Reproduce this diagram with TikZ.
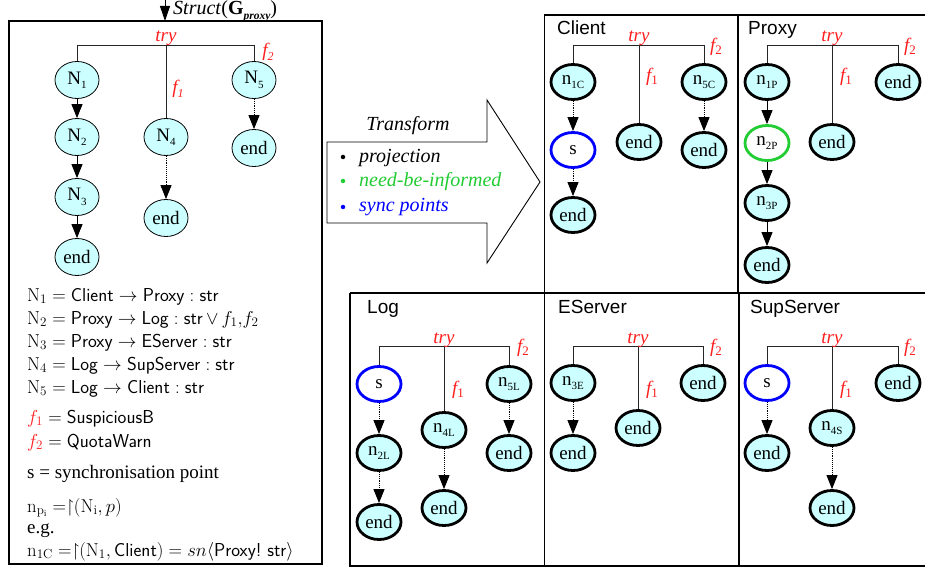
\documentclass[tikz,border=0pt]{standalone}
\usepackage{fix-cm}
\usepackage{fontspec}
\usepackage{amssymb}
\newfontfamily\tms{Liberation Serif}
\newfontfamily\arl{Liberation Sans}
\usetikzlibrary{shapes.geometric,arrows.meta}
\definecolor{nfill}{RGB}{204,255,255}
\definecolor{ngreen}{RGB}{34,204,51}
\definecolor{lred}{RGB}{255,30,30}
\newcommand\sbx[1]{\raisebox{-0.5ex}{\fontsize{11}{11}\selectfont #1}}
\newcommand\eqres{\mathrel{=\upharpoonright\mskip-\thickmuskip}}
\tikzset{
 tn/.style={ellipse, draw=black, line width=0.8pt, fill=nfill, minimum width=44pt, minimum height=37pt, inner sep=0pt, font=\tms\fontsize{19}{19}\selectfont},
 pn/.style={ellipse, draw=black, line width=2.8pt, fill=nfill, minimum width=44pt, minimum height=35pt, inner sep=0pt, font=\tms\fontsize{19}{19}\selectfont},
 syn/.style={pn, draw=blue, fill=white},
 gn/.style={pn, draw=ngreen, fill=white},
 br/.style={line width=0.9pt, draw=black!85},
 arr/.style={line width=0.9pt, -{Triangle[length=14pt,width=11pt]}},
 darr/.style={arr, densely dotted},
 lbl/.style={text=lred, font=\tms\itshape\fontsize{19}{19}\selectfont, inner sep=0pt},
 ptitle/.style={anchor=base west, font=\arl\fontsize{19}{19}\selectfont, inner sep=0pt},
 leg/.style={anchor=base west, inner sep=0pt, font=\fontsize{18.7}{18.7}\selectfont},
 trf/.style={anchor=base west, inner sep=0pt, font=\tms\itshape\fontsize{20}{20}\selectfont},
 frame/.style={line width=1.1pt, draw=black},
 bul/.style={circle, inner sep=0pt, minimum size=4.5pt},
}
\begin{document}
\begin{tikzpicture}[x=1pt,y=-1pt]
\useasboundingbox (0,0) rectangle (925,569);
\fill[white] (0,0) rectangle (925,569);

% ---------- frames ----------
\draw[frame] (9,21) rectangle (322,564);
\draw[frame] (544.5,293) -- (544.5,15) -- (926,15);
\draw[frame] (738,15) -- (738,293);
\draw[frame] (350,293) -- (926,293);
\draw[frame] (350,293) -- (350,566) -- (926,566);
\draw[frame] (544.5,293) -- (544.5,566);
\draw[frame] (739,293) -- (739,566);

% ---------- Struct arrow ----------
\coordinate (stop) at (165,-2);
\coordinate (sbot) at (165,21);
\draw[line width=0.9pt, -{Triangle[length=15pt,width=10pt]}] (stop) -- (sbot);
\node[anchor=base west, inner sep=0pt, font=\tms\fontsize{20}{20}\selectfont] (structlbl) at (173,15)
  {\textit{Struct}(\textbf{G}\raisebox{-0.5ex}{\fontsize{11.5}{11.5}\selectfont\bfseries\itshape proxy})};

% ---------- left tree ----------
\node[tn] (N1) at (77,80) {N\sbx{1}};
\node[tn] (N2) at (77,137) {N\sbx{2}};
\node[tn] (N3) at (77,197) {N\sbx{3}};
\node[tn] (E1) at (77,257) {end};
\node[tn] (N4) at (166,137) {N\sbx{4}};
\node[tn] (E4) at (166,218) {end};
\node[tn] (N5) at (254,80) {N\sbx{5}};
\node[tn] (E5) at (254,148) {end};
\coordinate (bar0) at (166,45);
\draw[br] (N1.north) -- (N1.north |- bar0) -- (N5.north |- bar0) -- (N5.north);
\draw[br] (bar0) -- (N4.north);
\node[lbl, anchor=base] (try0) at (166,42) {try};
\node[lbl] (f20) at (268,52) {f\raisebox{-0.5ex}{\fontsize{12}{12}\selectfont 2}};
\node[lbl] (f10) at (178,89) {f\raisebox{-0.5ex}{\fontsize{12}{12}\selectfont 1}};
\draw[arr] (N1) -- (N2);
\draw[arr] (N2) -- (N3);
\draw[arr] (N3) -- (E1);
\draw[darr] (N4) -- (E4);
\draw[darr] (N5) -- (E5);

% ---------- legend ----------
\node[leg] (l1) at (27,301) {$\mathrm{N}_1 = \textsf{Client} \rightarrow \textsf{Proxy} : \textsf{str}$};
\node[leg] (l2) at (27,324) {$\mathrm{N}_2 = \textsf{Proxy} \rightarrow \textsf{Log} : \textsf{str}\,{\vee}\, f_1{,}f_2$};
\node[leg] (l3) at (27,347) {$\mathrm{N}_3 = \textsf{Proxy} \rightarrow \textsf{EServer} : \textsf{str}$};
\node[leg] (l4) at (27,370) {$\mathrm{N}_4 = \textsf{Log} \rightarrow \textsf{SupServer} : \textsf{str}$};
\node[leg] (l5) at (27,393) {$\mathrm{N}_5 = \textsf{Log} \rightarrow \textsf{Client} : \textsf{str}$};
\node[leg] (l6) at (27,423) {$\color{lred}f_1\color{black} = \textsf{SuspiciousB}$};
\node[leg] (l7) at (27,447) {$\color{lred}f_2\color{black} = \textsf{QuotaWarn}$};
\node[leg, font=\tms\fontsize{19}{19}\selectfont] (l8) at (27,478) {s = synchronisation point};
\node[leg] (l9) at (27,512) {$\mathrm{n}_{\mathrm{p}_\mathrm{i}} \eqres(\mathrm{N}_\mathrm{i}, p)$};
\node[leg, font=\tms\fontsize{19}{19}\selectfont] (l10) at (27,533) {e.g.};
\node[leg] (l11) at (27,556) {$\mathrm{n}_{\mathrm{1C}} \eqres(\mathrm{N}_1, \textsf{Client}) = sn\langle\textsf{Proxy!\ str}\rangle$};

% ---------- Transform arrow ----------
\draw[line width=0.9pt, fill=white] (327,142) -- (487,142) -- (487,100) -- (540,182) -- (487,263) -- (487,223) -- (327,223) -- cycle;
\node[anchor=base, inner sep=0pt, font=\tms\itshape\fontsize{20}{20}\selectfont] (tf) at (408,131) {Transform};
\node[bul, fill=black] (b1) at (343,157) {};
\node[bul, fill=ngreen] (b2) at (343,181) {};
\node[bul, fill=blue] (b3) at (343,207) {};
\node[trf] (t1) at (359,163) {projection};
\node[trf, text=ngreen] (t2) at (359,187) {need-be-informed};
\node[trf, text=blue] (t3) at (359,212) {sync points};

% ---------- Client ----------
\node[ptitle] (tc) at (557,35) {Client};
\node[pn] (c1) at (573,82) {n\sbx{1C}};
\node[syn] (cs) at (573,150) {s};
\node[pn] (ce1) at (573,215) {end};
\node[pn] (ce2) at (639,142) {end};
\node[pn] (c5) at (704,82) {n\sbx{5C}};
\node[pn] (ce3) at (704,150) {end};
\coordinate (barc) at (639,45);
\draw[br] (c1.north) -- (c1.north |- barc) -- (c5.north |- barc) -- (c5.north);
\draw[br] (barc) -- (ce2.north);
\node[lbl, anchor=base] (tryc) at (639,42) {try};
\node[lbl] (f1c) at (652,77) {f\raisebox{-0.3ex}{\fontsize{13}{13}\selectfont\upshape 1}};
\node[lbl] (f2c) at (716,47) {f\raisebox{-0.3ex}{\fontsize{13}{13}\selectfont\upshape 2}};
\draw[darr] (c1) -- (cs);
\draw[darr] (cs) -- (ce1);
\draw[darr] (c5) -- (ce3);

% ---------- Proxy ----------
\node[ptitle] (tp) at (748,35) {Proxy};
\node[pn] (p1) at (767,82) {n\sbx{1P}};
\node[gn] (p2) at (767,143) {n\sbx{2P}};
\node[pn] (p3) at (767,203) {n\sbx{3P}};
\node[pn] (pe1) at (767,265) {end};
\node[pn] (pe2) at (832,142) {end};
\node[pn] (pe3) at (898,82) {end};
\coordinate (barp) at (832,45);
\draw[br] (p1.north) -- (p1.north |- barp) -- (pe3.north |- barp) -- (pe3.north);
\draw[br] (barp) -- (pe2.north);
\node[lbl, anchor=base] (tryp) at (832,42) {try};
\node[lbl] (f1p) at (846,77) {f\raisebox{-0.3ex}{\fontsize{13}{13}\selectfont\upshape 1}};
\node[lbl] (f2p) at (910,47) {f\raisebox{-0.3ex}{\fontsize{13}{13}\selectfont\upshape 2}};
\draw[arr] (p1) -- (p2);
\draw[arr] (p2) -- (p3);
\draw[arr] (p3) -- (pe1);

% ---------- Log ----------
\node[ptitle] (tl) at (367,313) {Log};
\node[syn] (ls) at (379,384) {s};
\node[pn] (l2n) at (379,453) {n\sbx{2L}};
\node[pn] (le1) at (379,522) {end};
\node[pn] (l4n) at (444,430) {n\sbx{4L}};
\node[pn] (le2) at (444,508) {end};
\node[pn] (l5n) at (509,384) {n\sbx{5L}};
\node[pn] (le3) at (509,453) {end};
\coordinate (barl) at (444,346);
\draw[br] (ls.north) -- (ls.north |- barl) -- (l5n.north |- barl) -- (l5n.north);
\draw[br] (barl) -- (l4n.north);
\node[lbl, anchor=base] (tryl) at (444,343) {try};
\node[lbl] (f1l) at (458,390) {f\raisebox{-0.3ex}{\fontsize{13}{13}\selectfont\upshape 1}};
\node[lbl] (f2l) at (523,348) {f\raisebox{-0.3ex}{\fontsize{13}{13}\selectfont\upshape 2}};
\draw[darr] (ls) -- (l2n);
\draw[darr] (l2n) -- (le1);
\draw[darr] (l4n) -- (le2);
\draw[darr] (l5n) -- (le3);

% ---------- EServer ----------
\node[ptitle] (te) at (558,313) {EServer};
\node[pn] (e3n) at (573,383) {n\sbx{3E}};
\node[pn] (ee1) at (573,453) {end};
\node[pn] (ee2) at (638,428) {end};
\node[pn] (ee3) at (703,383) {end};
\coordinate (bare) at (638,346);
\draw[br] (e3n.north) -- (e3n.north |- bare) -- (ee3.north |- bare) -- (ee3.north);
\draw[br] (bare) -- (ee2.north);
\node[lbl, anchor=base] (trye) at (638,343) {try};
\node[lbl] (f1e) at (652,390) {f\raisebox{-0.3ex}{\fontsize{13}{13}\selectfont\upshape 1}};
\node[lbl] (f2e) at (716,348) {f\raisebox{-0.3ex}{\fontsize{13}{13}\selectfont\upshape 2}};
\draw[darr] (e3n) -- (ee1);

% ---------- SupServer ----------
\node[ptitle] (ts) at (750,313) {SupServer};
\node[syn] (ss) at (767,383) {s};
\node[pn] (se1) at (767,453) {end};
\node[pn] (s4n) at (832,428) {n\sbx{4S}};
\node[pn] (se2) at (832,508) {end};
\node[pn] (se3) at (898,383) {end};
\coordinate (bars) at (832,346);
\draw[br] (ss.north) -- (ss.north |- bars) -- (se3.north |- bars) -- (se3.north);
\draw[br] (bars) -- (s4n.north);
\node[lbl, anchor=base] (trys) at (832,343) {try};
\node[lbl] (f1s) at (846,390) {f\raisebox{-0.3ex}{\fontsize{13}{13}\selectfont\upshape 1}};
\node[lbl] (f2s) at (910,348) {f\raisebox{-0.3ex}{\fontsize{13}{13}\selectfont\upshape 2}};
\draw[darr] (ss) -- (se1);
\draw[darr] (s4n) -- (se2);
\end{tikzpicture}
\end{document}
